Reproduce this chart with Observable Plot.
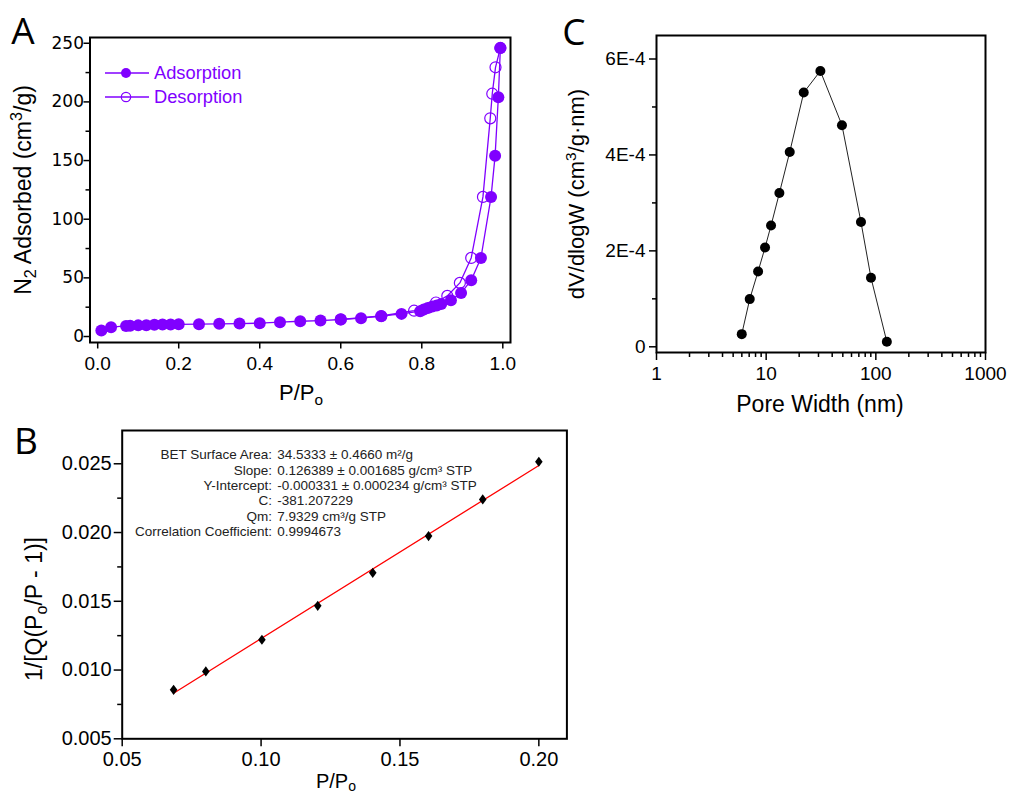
<!DOCTYPE html>
<html><head><meta charset="utf-8">
<script src="https://cdn.jsdelivr.net/npm/d3@7"></script>
<script src="https://cdn.jsdelivr.net/npm/@observablehq/plot@0.6"></script>
<style>
body{margin:0;background:#fff;}
#fig{position:relative;width:1011px;height:797px;overflow:hidden;font-family:"Liberation Sans",Arial,sans-serif;color:#000;background:#fff;}
.panel{position:absolute;}
.lab{position:absolute;white-space:nowrap;line-height:1;transform:translate(-50%,-50%);}
.rot{transform:translate(-50%,-50%) rotate(-90deg);}
.letter{position:absolute;font-family:"Open Sans",sans-serif;font-size:37px;line-height:1;transform:translate(-50%,-50%);}
sub,sup{line-height:0;font-size:70%;}
.leg{position:absolute;display:flex;align-items:center;height:20px;color:#8000ff;font-size:18.3px;line-height:1;}
</style></head>
<body>
<div id="fig"></div>
<script>
// ---------- Panel A: N2 adsorption / desorption isotherm ----------
const adsX = [0.009,0.033,0.07,0.08,0.10,0.12,0.14,0.16,0.18,0.20,0.25,0.30,0.35,0.40,0.45,0.50,0.55,0.60,0.65,0.70,0.75,0.796,0.805,0.815,0.826,0.837,0.848,0.872,0.897,0.922,0.946,0.971,0.981,0.989,0.994];
const adsY = [5.1,8.0,9.0,9.2,9.5,9.7,10.0,10.2,10.3,10.4,10.5,10.8,11.0,11.4,12.2,13.0,13.6,14.5,15.6,17.3,19.3,21.6,23.0,24.4,25.6,26.4,27.8,31,37,48,67,119,154,204,246];
const desX = [0.994,0.982,0.974,0.969,0.951,0.922,0.894,0.863,0.835,0.781,0.70,0.60];
const desY = [246,229.5,207,186,119,67,45.7,34.6,29,22,17.5,14.6];
const aXTicks = [0,0.2,0.4,0.6,0.8,1.0];
const aYTicks = [0,50,100,150,200,250];
const aYMinor = [25,75,125,175,225];

// ---------- Panel B: BET plot ----------
const betX = [0.0685,0.0801,0.1003,0.1204,0.1402,0.1603,0.1798,0.2000];
const betY = [0.00856,0.0099,0.0122,0.01467,0.01707,0.01974,0.02241,0.02515];
const bXTicks = [0.05,0.10,0.15,0.20];
const bYTicks = [0.005,0.010,0.015,0.020,0.025];
const bYMinor = [0.0075,0.0125,0.0175,0.0225];
const betLabels = ["BET Surface Area:","Slope:","Y-Intercept:","C:","Qm:","Correlation Coefficient:"];
const betValues = ["34.5333 ± 0.4660 m²/g","0.126389 ± 0.001685 g/cm³ STP","-0.000331 ± 0.000234 g/cm³ STP","-381.207229","7.9329 cm³/g STP","0.9994673"];

// ---------- Panel C: pore size distribution ----------
const poreW = [5.99,7.08,8.44,9.77,11.08,13.2,16.4,22.0,31.2,49.1,73.2,90.3,126];
const poreDV = [2.64e-5,9.94e-5,1.571e-4,2.07e-4,2.53e-4,3.205e-4,4.06e-4,5.30e-4,5.75e-4,4.62e-4,2.60e-4,1.44e-4,1.04e-5];
const cXTicks = [1,10,100,1000];
const cXMinor = [2,3,4,5,6,7,8,9,20,30,40,50,60,70,80,90,200,300,400,500,600,700,800,900];
const cYTicks = [0,2e-4,4e-4,6e-4];
const cYMinor = [1e-4,3e-4,5e-4];

const purple = "#8000ff";
const ads = adsX.map((x,i)=>({x, y: adsY[i]}));
const des = desX.map((x,i)=>({x, y: desY[i]}));
const bet = betX.map((x,i)=>({x, y: betY[i]}));
const pore = poreW.map((x,i)=>({x, y: poreDV[i]}));

// squarer diamond symbol (closer to the reference marker)
const diamond = {draw(ctx, size){ const h = Math.sqrt(size/0.375)/2, w = 0.75*h; ctx.moveTo(0,-h); ctx.lineTo(w,0); ctx.lineTo(0,h); ctx.lineTo(-w,0); ctx.closePath(); }};

const fig = document.getElementById("fig");
const baseStyle = {fontFamily:"'Liberation Sans', Arial, sans-serif", color:"black", background:"transparent", overflow:"visible"};

function place(el, left, top){
  const d = document.createElement("div");
  d.className = "panel"; d.style.left = left+"px"; d.style.top = top+"px";
  d.appendChild(el); fig.appendChild(d);
}
function html(cls, left, top, inner, extra){
  const d = document.createElement("div");
  d.className = cls; d.style.left = left+"px"; d.style.top = top+"px";
  if (extra) Object.assign(d.style, extra);
  d.innerHTML = inner; fig.appendChild(d);
}

// Panel A  (frame x 89.5–510, y 37–342)
const plotA = Plot.plot({
  width: 530, height: 390,
  marginLeft: 89.5, marginTop: 37, marginRight: 20, marginBottom: 48,
  style: baseStyle,
  x: {domain: [-0.019, 1.019]},
  y: {domain: [-5.1, 254.9]},
  marks: [
    Plot.axisY({ticks: aYTicks, tickSize: 6, tickPadding: 0, fontSize: 17, fontFamily: "DejaVu Sans", strokeWidth: 1.5, tickFormat: d => d, label: null}),
    Plot.axisY({ticks: aYMinor, tickSize: 4, strokeWidth: 1.5, fill: "none", label: null}),
    Plot.axisX({ticks: aXTicks, tickSize: 6.5, tickPadding: 7, fontSize: 19, strokeWidth: 1.5, tickFormat: d3.format(".1f"), label: null}),
    Plot.line(des, {x: "x", y: "y", stroke: purple, strokeWidth: 1.3}),
    Plot.line(ads, {x: "x", y: "y", stroke: purple, strokeWidth: 1.3}),
    Plot.dot(des, {x: "x", y: "y", r: 5.5, stroke: purple, fill: "none", strokeWidth: 1.2}),
    Plot.dot(ads, {x: "x", y: "y", r: 6, fill: purple}),
    Plot.frame({stroke: "black", strokeWidth: 2})
  ]
});
place(plotA, 0, 0);

// Panel B  (frame x 121.7–566.4, y 430–738.3)
const plotB = Plot.plot({
  width: 600, height: 377,
  marginLeft: 121.7, marginTop: 10, marginRight: 33.6, marginBottom: 58.7,
  style: baseStyle,
  x: {domain: [0.05, 0.2101]},
  y: {domain: [0.005, 0.02742]},
  marks: [
    Plot.axisY({ticks: bYTicks, tickSize: 8, tickPadding: 2.5, fontSize: 20, strokeWidth: 1.5, tickFormat: d3.format(".3f"), label: null}),
    Plot.axisY({ticks: bYMinor, tickSize: 4.5, strokeWidth: 1.5, fill: "none", label: null}),
    Plot.axisX({ticks: bXTicks, tickSize: 8, tickPadding: 5, fontSize: 20, strokeWidth: 1.5, tickFormat: d3.format(".2f"), label: null}),
    Plot.linearRegressionY(bet, {x: "x", y: "y", stroke: "red", strokeWidth: 1.3, ci: 0}),
    Plot.dot(bet, {x: "x", y: "y", symbol: diamond, r: 3.5, fill: "black"}),
    Plot.text([betLabels.join("\n")], {text: d => d, frameAnchor: "top-left", dx: 149.8, dy: 17.9, textAnchor: "end", lineAnchor: "top", lineHeight: 1.14, fontSize: 13.5, fill: "#222"}),
    Plot.text([betValues.join("\n")], {text: d => d, frameAnchor: "top-left", dx: 155, dy: 17.9, textAnchor: "start", lineAnchor: "top", lineHeight: 1.14, fontSize: 13.5, fill: "#222"}),
    Plot.frame({stroke: "black", strokeWidth: 2})
  ]
});
place(plotB, 0, 420);

// Panel C  (frame x 656–985.3, y 34.7–351.7)
const plotC = Plot.plot({
  width: 471, height: 420,
  marginLeft: 116, marginTop: 35, marginRight: 26, marginBottom: 68,
  style: baseStyle,
  x: {type: "log", domain: [1, 1000]},
  y: {domain: [-1.19e-5, 6.49e-4]},
  marks: [
    Plot.axisY({ticks: cYTicks, tickSize: 7, tickPadding: 4, fontSize: 19, strokeWidth: 1.5, tickFormat: d => d === 0 ? "0" : `${Math.round(d*1e4)}E-4`, label: null}),
    Plot.axisY({ticks: cYMinor, tickSize: 4, strokeWidth: 1.5, fill: "none", label: null}),
    Plot.axisX({ticks: cXTicks, tickSize: 8, tickPadding: 6, fontSize: 19, strokeWidth: 1.5, tickFormat: d => String(d), label: null}),
    Plot.axisX({ticks: cXMinor, tickSize: 5, strokeWidth: 1.5, fill: "none", label: null}),
    Plot.line(pore, {x: "x", y: "y", stroke: "#222", strokeWidth: 1}),
    Plot.dot(pore, {x: "x", y: "y", r: 5, fill: "black"}),
    Plot.frame({stroke: "black", strokeWidth: 2})
  ]
});
place(plotC, 540, 0);

// Axis titles
html("lab rot", 23, 190, 'N<sub>2</sub> Adsorbed (cm<sup>3</sup>/g)', {fontSize: "23px"});
html("lab", 301, 393, 'P/P<sub>o</sub>', {fontSize: "22px"});
html("lab rot", 34, 609, '1/[Q(P<sub>o</sub>/P - 1)]', {fontSize: "23px"});
html("lab", 336, 781, 'P/P<sub style="vertical-align:-0.18em">o</sub>', {fontSize: "20px"});
html("lab rot", 577, 194, 'dV/dlogW (cm<sup>3</sup>/g·nm)', {fontSize: "22px"});
html("lab", 820, 404, 'Pore Width (nm)', {fontSize: "23px"});

// Panel letters
html("letter", 23, 29, 'A');
html("letter", 26, 439, 'B');
html("letter", 574, 30, 'C');

// Legend for panel A
const sw = (open) => `<svg width="44" height="20" style="margin-right:5px"><line x1="0" x2="44" y1="10" y2="10" stroke="${purple}" stroke-width="1.3"/><circle cx="21" cy="10" r="${open ? 4.7 : 5}" ${open ? `fill="none" stroke="${purple}" stroke-width="1.2"` : `fill="${purple}"`}/></svg>`;
html("leg", 105, 62.7, sw(false) + '<span>Adsorption</span>');
html("leg", 105, 86.7, sw(true) + '<span>Desorption</span>');
</script>
</body></html>
